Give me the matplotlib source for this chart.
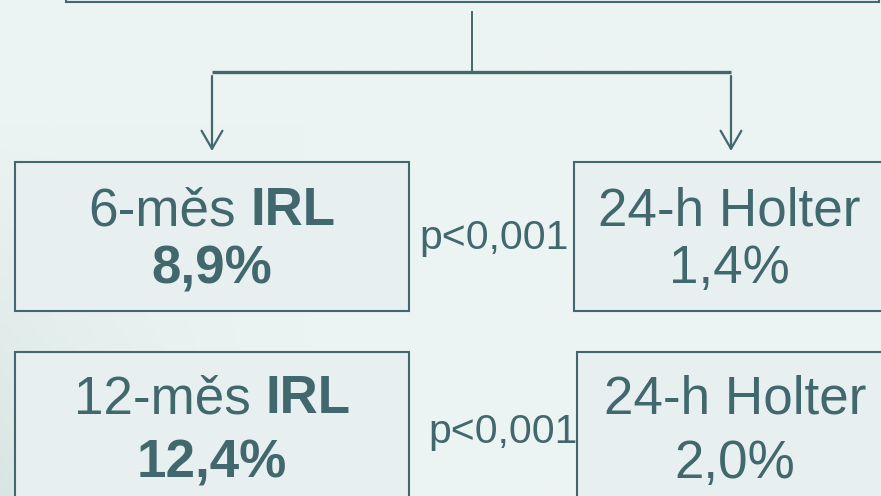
import matplotlib
matplotlib.use("Agg")
import matplotlib.pyplot as plt
import numpy as np
from matplotlib.patches import Rectangle
from matplotlib.colors import to_rgb

# ---- data ----
periods = ["6-měs", "12-měs"]
irl_label = "IRL"
irl_values = ["8,9%", "12,4%"]
holter_label = "24-h Holter"
holter_values = ["1,4%", "2,0%"]
p_values = ["p<0,001", "p<0,001"]

# ---- style ----
C = "#41686C"
BG = "#ECF4F3"
BOX = "#E7EFF0"
FONT = "Liberation Sans"
W, H = 881, 496
DPI = 100

fig = plt.figure(figsize=(W / DPI, H / DPI), dpi=DPI)
ax = fig.add_axes([0, 0, 1, 1])
ax.set_xlim(0, W)
ax.set_ylim(H, 0)
ax.axis("off")

# subtle background gradient (darker at the lower left)
xx = np.linspace(0, 1, 200)
yy = np.linspace(0, 1, 120)
X, Y = np.meshgrid(xx, yy)
fx = np.clip(1 - X / 0.35, 0, 1)
fy = np.clip((Y - 0.25) / 0.75, 0, 1)
f = (fx ** 1.5) * fy
c0 = np.array(to_rgb(BG))
c1 = np.array(to_rgb("#D9E5E4"))
img = c0[None, None, :] * (1 - f[..., None]) + c1[None, None, :] * f[..., None]
ax.imshow(img, extent=[0, W, H, 0], aspect="auto", zorder=0, interpolation="bilinear")

lw = 1.5
# top box (cut by frame)
ax.add_patch(Rectangle((66, -60), 813, 62, facecolor=BOX, edgecolor=C, lw=lw, zorder=1))
# connectors
ax.plot([472, 472], [12, 72], color=C, lw=1.4, zorder=2)
ax.plot([212, 731], [72, 72], color=C, lw=2.4, zorder=2, solid_capstyle="butt")
for xa in (212, 731):
    ax.annotate("", xy=(xa, 151), xytext=(xa, 76),
                arrowprops=dict(arrowstyle="->,head_length=1.3,head_width=0.75",
                                color=C, lw=1.6, mutation_scale=10,
                                shrinkA=0, shrinkB=0), zorder=2)

# boxes
rows_top = [162, 352]
left_box = (15, 394)
right_boxes = [(574, 320), (577, 320)]
for i, top in enumerate(rows_top):
    ax.add_patch(Rectangle((left_box[0], top), left_box[1], 149, facecolor=BOX,
                           edgecolor=C, lw=lw, zorder=1))
    rx, rw = right_boxes[i]
    ax.add_patch(Rectangle((rx, top), rw, 149, facecolor=BOX,
                           edgecolor=C, lw=lw, zorder=1))

fs_big = 53 * 72 / DPI
fs_p = 41 * 72 / DPI

fig.canvas.draw()
renderer = fig.canvas.get_renderer()


def width_px(s, weight):
    t = ax.text(0, 0, s, fontsize=fs_big, family=FONT, weight=weight)
    w = t.get_window_extent(renderer).width
    t.remove()
    return w


baselines1 = [225, 413]
baselines2 = [283, 478]
left_cx = [212, 212]
right_cx = [729, 735]
p_cx = [494, 503]
p_base = [249, 443]

for i in range(2):
    # "6-měs IRL" with IRL in bold
    w1 = width_px(periods[i], "normal")
    w2 = width_px(irl_label, "bold")
    gap = 0.278 * 53
    x0 = left_cx[i] - (w1 + gap + w2) / 2
    ax.text(x0, baselines1[i], periods[i], fontsize=fs_big, family=FONT,
            color=C, ha="left", va="baseline", zorder=3)
    ax.text(x0 + w1 + gap, baselines1[i], irl_label, fontsize=fs_big, family=FONT,
            weight="bold", color=C, ha="left", va="baseline", zorder=3)
    ax.text(left_cx[i], baselines2[i], irl_values[i], fontsize=fs_big, family=FONT,
            weight="bold", color=C, ha="center", va="baseline", zorder=3)
    # right box
    ax.text(right_cx[i], baselines1[i], holter_label, fontsize=fs_big, family=FONT,
            color=C, ha="center", va="baseline", zorder=3)
    ax.text(right_cx[i], baselines2[i], holter_values[i], fontsize=fs_big, family=FONT,
            color=C, ha="center", va="baseline", zorder=3)
    # p-value
    ax.text(p_cx[i], p_base[i], p_values[i], fontsize=fs_p, family=FONT,
            color=C, ha="center", va="baseline", zorder=3)

fig.savefig("out.png", dpi=DPI, facecolor=BG)
